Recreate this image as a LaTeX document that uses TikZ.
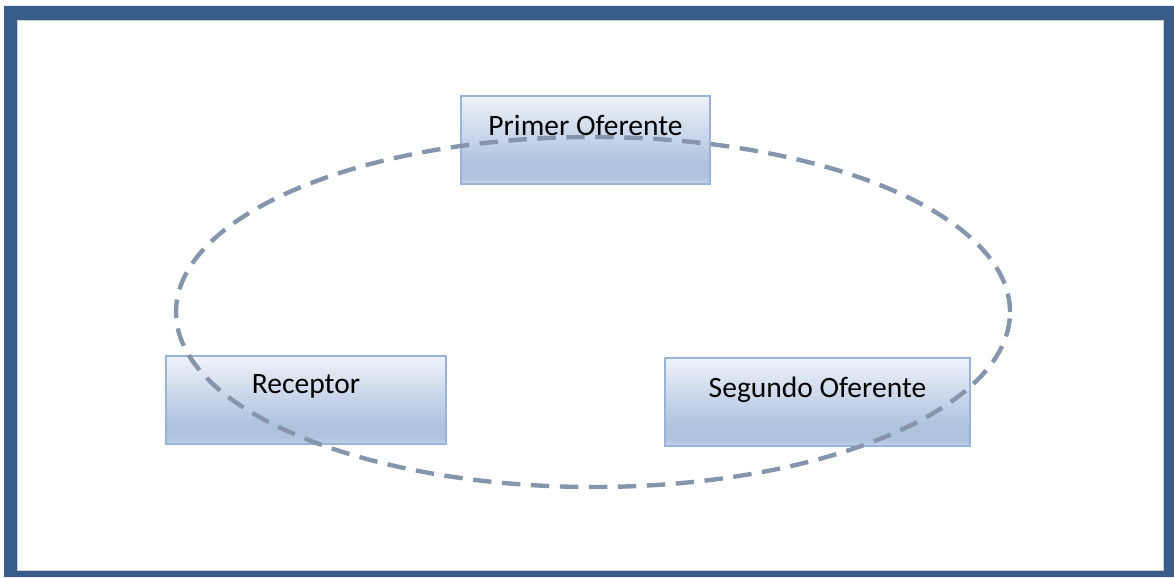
\documentclass[tikz,border=0pt]{standalone}
\usepackage{fontspec}
\setmainfont{Carlito}
\usepackage{tikz}

\definecolor{framecol}{HTML}{385D8A}
\definecolor{boxline}{HTML}{98B4D8}
\definecolor{boxtop}{HTML}{EFF2F9}
\definecolor{boxmid}{HTML}{AFC3DF}
\definecolor{boxbot}{HTML}{C3D2E8}
\definecolor{ringcol}{HTML}{8595AC}

\pgfdeclareverticalshading{boxshade}{100bp}{%
  color(0bp)=(boxbot); color(25bp)=(boxbot); color(29bp)=(boxmid);
  color(37bp)=(boxmid); color(75bp)=(boxtop); color(100bp)=(boxtop)}

\tikzset{
  rolebox/.style={draw=boxline, line width=1.1pt, shading=boxshade,
    minimum height=1.76cm, inner sep=0pt},
  rolelabel/.style={font=\fontsize{16.8}{20}\selectfont, inner sep=0pt}
}

\begin{document}
\begin{tikzpicture}
            \useasboundingbox (0,0) rectangle (23.48,11.54);
            % Frame
            \fill[framecol, even odd rule] (0.08,0) rectangle (23.48,11.42)
                (0.34,0.14) rectangle (23.26,11.14);
            \draw[gray!40, line width=0.4pt] (0.34,0.14) rectangle (23.26,11.14);

            % Boxes
            \node[rolebox, minimum width=4.98cm] (prim) at (11.71,8.74) {};
            \node[rolelabel] (primT) at ([yshift=0.3cm]prim.center) {Primer Oferente};

            \node[rolebox, minimum width=5.6cm] (rec) at (6.12,3.54) {};
            \node[rolelabel] (recT) at ([yshift=0.27cm]rec.center) {Receptor};

            \node[rolebox, minimum width=6.1cm] (seg) at (16.35,3.50) {};
            \node[rolelabel] (segT) at ([yshift=0.24cm]seg.center) {Segundo Oferente};

            % Dashed ring over the boxes
            \draw[ringcol, line width=2.5pt, dash pattern=on 10.5pt off 6pt]
                (11.86,5.30) ellipse [x radius=8.34, y radius=3.5];
        \end{tikzpicture}
\end{document}
